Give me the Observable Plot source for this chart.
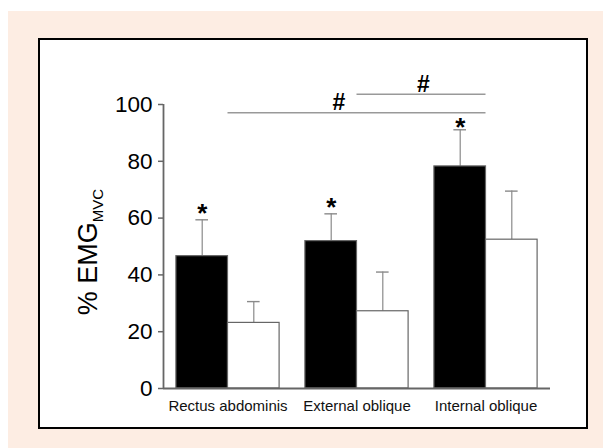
<!DOCTYPE html>
<html>
<head>
<meta charset="utf-8">
<script src="https://cdn.jsdelivr.net/npm/d3@7"></script>
<script src="https://cdn.jsdelivr.net/npm/@observablehq/plot@0.6"></script>
<style>
  html, body { margin: 0; padding: 0; background: #ffffff; width: 603px; height: 448px; overflow: hidden; }
  #bg { position: absolute; left: 8px; top: 11px; width: 595px; height: 437px; background: #fdede3; }
  #frame { position: absolute; left: 38px; top: 38px; width: 550px; height: 391px; box-sizing: border-box; border: 2px solid #000; background: #fff; }
  #chart { position: absolute; left: 40px; top: 40px; }
  #chart svg { overflow: visible; }
</style>
</head>
<body>
<div id="bg"></div>
<div id="frame"></div>
<div id="chart"></div>
<script>
// ---- data ----
const categories = ["Rectus abdominis", "External oblique", "Internal oblique"];
const blackMean = [46.6, 51.9, 78.2];
const blackErr  = [12.8, 9.6, 12.9];
const whiteMean = [23.1, 27.2, 52.4];
const whiteErr  = [7.5, 13.8, 17.1];
const starY     = [63.8, 65.8, 93.9];
const yTicks    = [0, 20, 40, 60, 80, 100];
// significance brackets: from group, to group, line level, "#" position
const sigFrom   = [0, 1];
const sigTo     = [2, 2];
const sigLevel  = [97.1, 103.6];
const sigMarkX  = [0.86, 1.515];
const sigMarkY  = [100.5, 106.9];

// ---- tables built from the arrays ----
const bars = [];
categories.forEach((c, i) => {
  bars.push({i, x1: i - 0.4, x2: i, cx: i - 0.2, v: blackMean[i], e: blackErr[i], fill: "#000"});
  bars.push({i, x1: i, x2: i + 0.4, cx: i + 0.2, v: whiteMean[i], e: whiteErr[i], fill: "#fff"});
});
const stars = categories.map((c, i) => ({x: i - 0.2, y: starY[i]}));
const sigs = sigFrom.map((f, k) => ({x1: f, x2: sigTo[k], y: sigLevel[k], mx: sigMarkX[k], my: sigMarkY[k]}));

const font = "'Liberation Sans', Arial, sans-serif";

const plot = Plot.plot({
  width: 546,
  height: 387,
  marginLeft: 123,
  marginRight: 36,
  marginTop: 64,
  marginBottom: 39,
  style: {fontFamily: font, color: "#000", background: "transparent", overflow: "visible"},
  x: {domain: [-0.5, 2.5], axis: null},
  y: {domain: [0, 100], axis: null},
  marks: [
    // error bars
    Plot.ruleX(bars, {x: "cx", y1: "v", y2: d => d.v + d.e, stroke: "#8a8a8a", strokeWidth: 1.2}),
    Plot.ruleY(bars, {x1: d => d.cx - 0.049, x2: d => d.cx + 0.049, y: d => d.v + d.e, stroke: "#8a8a8a", strokeWidth: 1.4}),
    // bars
    Plot.rectY(bars, {x1: "x1", x2: "x2", y1: 0, y2: "v", fill: "fill", stroke: "#666", strokeWidth: 1.2}),
    // axes
    Plot.ruleY([0], {stroke: "#666", strokeWidth: 1.8}),
    Plot.ruleX([-0.5], {y1: 0, y2: 100, stroke: "#666", strokeWidth: 1.8}),
    Plot.axisY({ticks: yTicks, tickSize: 5, tickPadding: 6, fontSize: 22.5, stroke: "#666", strokeWidth: 1.5, fill: "#000", label: null}),
    Plot.axisX({ticks: [0, 1, 2], tickFormat: i => categories[i], tickSize: 0, tickPadding: 12, fontSize: 15, fill: "#111", label: null}),
    // asterisks
    Plot.text(stars, {x: "x", y: "y", text: () => "*", fontSize: 26, fontWeight: "bold", dy: 6, fill: "#000"}),
    // significance lines and marks
    Plot.ruleY(sigs, {x1: "x1", x2: "x2", y: "y", stroke: "#999", strokeWidth: 1.4}),
    Plot.text(sigs, {x: "mx", y: "my", text: () => "#", fontSize: 23, fontWeight: "bold", fill: "#000"})
  ]
});

document.getElementById("chart").appendChild(plot);

// y-axis title with subscript
const svg = d3.select(plot);
const t = svg.append("text")
  .attr("transform", "translate(57,212) rotate(-90)")
  .attr("text-anchor", "middle")
  .attr("fill", "#000")
  .style("font-family", font);
t.append("tspan").attr("font-size", 27).text("% EMG");
t.append("tspan").attr("font-size", 15).attr("dy", 6).text("MVC");
</script>
</body>
</html>
